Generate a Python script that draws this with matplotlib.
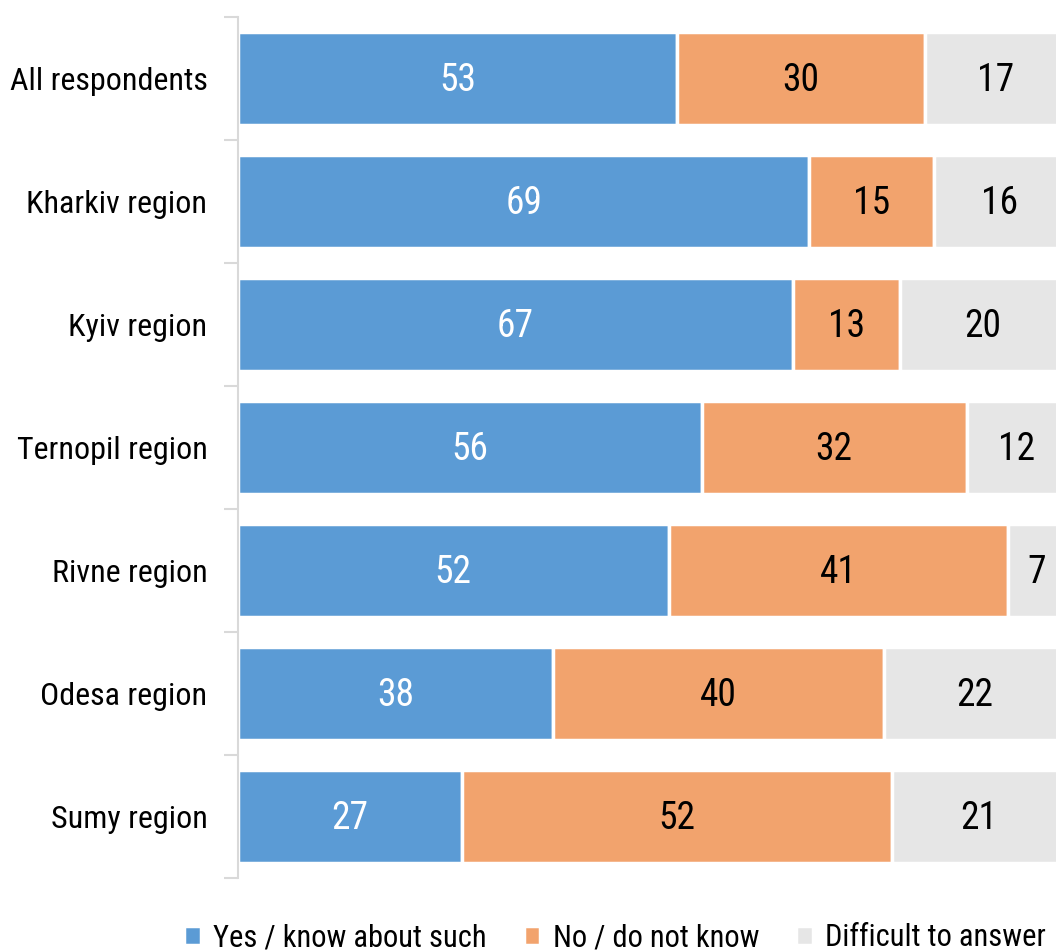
import numpy as np
import matplotlib.pyplot as plt
from matplotlib import font_manager as fm

names = {f.name for f in fm.fontManager.ttflist}
family = 'Roboto Condensed' if 'Roboto Condensed' in names else 'Roboto'
plt.rcParams['font.family'] = [family, 'DejaVu Sans']

regions = ['All respondents', 'Kharkiv region', 'Kyiv region', 'Ternopil region',
           'Rivne region', 'Odesa region', 'Sumy region']
yes = [53, 69, 67, 56, 52, 38, 27]
no = [30, 15, 13, 32, 41, 40, 52]
difficult = [17, 16, 20, 12, 7, 22, 21]

series = [('Yes / know about such', yes, '#5B9BD5', 'white'),
          ('No / do not know', no, '#F2A36D', 'black'),
          ('Difficult to answer', difficult, '#E6E6E6', 'black')]

fig = plt.figure(figsize=(10.56, 9.5), dpi=100)
ax = fig.add_axes([238 / 1056, 72 / 950, 828 / 1056, 861 / 950])

y = np.arange(len(regions))
left = np.zeros(len(regions))
for name, vals, color, tcolor in series:
    vals = np.array(vals)
    bars = ax.barh(y, vals, left=left, height=0.75, color=color,
                   edgecolor='white', linewidth=2.5, label=name)
    for b, v in zip(bars, vals):
        ax.text(b.get_x() + b.get_width() / 2, b.get_y() + b.get_height() / 2 + 0.02,
                str(v), ha='center', va='center', fontsize=27, color=tcolor)
    left += vals

ax.set_xlim(0, 100)
ax.set_ylim(len(regions) - 0.5, -0.5)
ax.set_yticks(y)
ax.set_yticklabels(regions, fontsize=23)
ax.set_yticks(np.arange(len(regions) + 1) - 0.5, minor=True)
ax.tick_params(axis='y', which='major', length=0, pad=22)
ax.tick_params(axis='y', which='minor', length=10, width=1.5, color='#D9D9D9')
ax.set_xticks([])
for s in ['top', 'right', 'bottom']:
    ax.spines[s].set_visible(False)
ax.spines['left'].set_color('#D9D9D9')
ax.spines['left'].set_linewidth(1.5)

fig.legend(loc='center', bbox_to_anchor=(615 / 1056, 12 / 950), ncol=3,
           frameon=False, fontsize=22, handlelength=0.55, handleheight=0.55,
           handletextpad=0.4, columnspacing=1.2)

fig.savefig('out.png', dpi=100)
